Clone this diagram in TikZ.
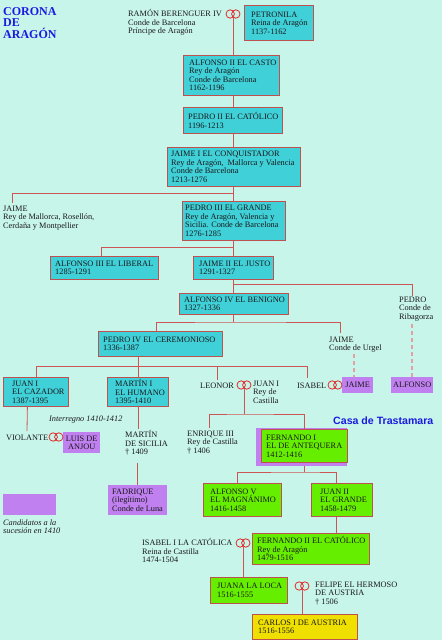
\documentclass[tikz,border=0pt]{standalone}
\usepackage{fontspec}
\setmainfont{Liberation Serif}
\newfontfamily\trastfont{Liberation Sans}
\definecolor{bgc}{RGB}{200,245,234}
\definecolor{cyanc}{RGB}{64,208,216}
\definecolor{greenc}{RGB}{102,238,0}
\definecolor{yellowc}{RGB}{240,224,0}
\definecolor{purpc}{RGB}{192,128,240}
\definecolor{bordc}{RGB}{190,80,80}
\definecolor{linec}{RGB}{205,85,85}
\definecolor{dashc}{RGB}{225,160,165}
\definecolor{ringc}{RGB}{225,40,40}
\definecolor{txtc}{RGB}{25,25,25}
\definecolor{bluec}{RGB}{25,25,225}
\newcommand\txtfont{\fontsize{8.3}{8.5}\selectfont}
\tikzset{
  conn/.style={draw=linec, line width=0.8pt},
  dconn/.style={draw=dashc, line width=1.6pt, dash pattern=on 4pt off 3pt},
  fam/.style={rectangle, draw=bordc, line width=0.8pt, anchor=north west, inner sep=0pt},
  cy/.style={fam, fill=cyanc},
  gr/.style={fam, fill=greenc},
  ye/.style={fam, fill=yellowc},
  pu/.style={rectangle, fill=purpc, anchor=north west, inner sep=0pt, align=center, font=\txtfont, text=txtc},
  boxlab/.style={anchor=west, inner sep=0pt, align=left, font=\txtfont, text=txtc},
  lab/.style={anchor=north west, inner sep=0pt, align=left, font=\txtfont, text=txtc,
              execute at begin node={\rule{0pt}{7.5pt}}},
  rings/.pic={
    \draw[ringc, line width=0.8pt] (-2.8,0) circle (4.2pt);
    \draw[ringc, line width=0.8pt] (2.8,0) circle (4.2pt);
    \coordinate (-c) at (0,0);
  }
}
% style, name, left, top, width, height, xsep, text
\newcommand\FamBox[8]{%
  \node[#1, minimum width=#5pt, minimum height=#6pt] (#2) at (#3,#4) {};
  \node[boxlab] (#2t) at ([xshift=#7pt]#2.west) {#8};
}
\begin{document}
\begin{tikzpicture}[x=1pt,y=-1pt]
\fill[bgc] (0,0) rectangle (442,640);
\useasboundingbox (0,0) rectangle (442,640);

% title
\node[anchor=north west, inner sep=0pt, align=left, text=bluec,
      font=\fontsize{12}{11.5}\selectfont\bfseries] (title) at (3,7) {CORONA\\DE\\ARAGÓN};
\node[anchor=base west, inner sep=0pt, text=bluec,
      font=\trastfont\fontsize{10.6}{12}\selectfont\bfseries] (trast) at (333,424.5) {Casa de Trastamara};

% free texts
\node[lab] (ramon) at (128,9.5) {RAMÓN BERENGUER IV\\Conde de Barcelona\\Príncipe de Aragón};
\node[lab] (jaimeM) at (3,205.5) {JAIME\\Rey de Mallorca, Rosellón,\\Cerdaña y Montpellier};
\node[lab] (pedroR) at (399,296.5) {PEDRO\\Conde de\\Ribagorza};
\node[lab] (jaimeU) at (329,336.5) {JAIME\\Conde de Urgel};
\node[lab] (leonor) at (200,380.5) {LEONOR};
\node[lab] (juanC) at (253,380.5) {JUAN I\\Rey de\\Castilla};
\node[lab] (isabel) at (297,380.5) {ISABEL};
\node[lab] (violante) at (6,432.5) {VIOLANTE};
\node[lab] (martinS) at (125,430.5) {MARTÍN\\DE SICILIA\\† 1409};
\node[lab] (enrique) at (187,430.5) {ENRIQUE III\\Rey de Castilla\\† 1406};
\node[lab] (isabel1) at (142,538.5) {ISABEL I LA CATÓLICA\\Reina de Castilla\\1474-1504};
\node[lab] (felipe) at (315,581.5) {FELIPE EL HERMOSO\\DE AUSTRIA\\† 1506};
\node[lab, anchor=base west, font=\txtfont\itshape] (interr) at (49,421.5) {Interregno 1410-1412};
\node[lab, font=\txtfont\itshape] (legendt) at (3,519.5) {Candidatos a la\\sucesión en 1410};

% boxes
\FamBox{cy}{petro}{244}{5}{69}{35}{7}{PETRONILA\\Reina de Aragón\\1137-1162}
\FamBox{cy}{alf2}{183}{55}{96}{40}{6}{ALFONSO II EL CASTO\\Rey de Aragón\\Conde de Barcelona\\1162-1196}
\FamBox{cy}{ped2}{183}{107}{99}{26}{5}{PEDRO II EL CATÓLICO\\1196-1213}
\FamBox{cy}{jaime1}{167}{147}{133}{39}{4}{JAIME I EL CONQUISTADOR\\Rey de Aragón,\ \ Mallorca y Valencia\\Conde de Barcelona\\1213-1276}
\FamBox{cy}{ped3}{182}{201}{103}{39}{3}{PEDRO III EL GRANDE\\Rey de Aragón, Valencia y\\Sicilia. Conde de Barcelona\\1276-1285}
\FamBox{cy}{alf3}{50}{256}{108}{23}{5}{ALFONSO III EL LIBERAL\\1285-1291}
\FamBox{cy}{jaime2}{193}{256}{80}{23}{6}{JAIME II EL JUSTO\\1291-1327}
\FamBox{cy}{alf4}{179}{293}{109}{21}{5}{ALFONSO IV EL BENIGNO\\1327-1336}
\FamBox{cy}{ped4}{98}{331}{124}{25}{5}{PEDRO IV EL CEREMONIOSO\\1336-1387}
\FamBox{cy}{juan1}{3}{377}{65}{29}{9}{JUAN I\\EL CAZADOR\\1387-1395}
\FamBox{cy}{martin1}{107}{377}{61}{29}{8}{MARTÍN I\\EL HUMANO\\1395-1410}
\fill[purpc] (256,428) rectangle (347,466);
\node[rectangle, inner sep=0pt, anchor=north west, minimum width=91pt, minimum height=38pt] (fern1sh) at (256,428) {};
\FamBox{gr}{fern1}{261}{429}{86}{33}{5}{FERNANDO I\\EL DE ANTEQUERA\\1412-1416}
\FamBox{gr}{alf5}{203}{483}{78}{33}{7}{ALFONSO V\\EL MAGNÁNIMO\\1416-1458}
\FamBox{gr}{juan2}{311}{483}{61}{33}{9}{JUAN II\\EL GRANDE\\1458-1479}
\FamBox{gr}{fern2}{252}{533}{117}{31}{5}{FERNANDO II EL CATÓLICO\\Rey de Aragón\\1479-1516}
\FamBox{gr}{juana}{210}{577}{77}{26}{7}{JUANA LA LOCA\\1516-1555}
\FamBox{ye}{carlos}{252}{614}{105}{25}{6}{CARLOS I DE AUSTRIA\\1516-1556}

% purple candidate boxes
\node[pu, minimum width=31pt, minimum height=16pt] (jaimeP) at (342,377) {JAIME};
\node[pu, minimum width=42pt, minimum height=16pt] (alfonsoP) at (391,377) {ALFONSO};
\node[pu, minimum width=37pt, minimum height=21pt, font=\fontsize{8.3}{8}\selectfont] (luis) at (63,432) {LUIS DE\\ANJOU};
\node[pu, minimum width=59pt, minimum height=30pt] (fadrique) at (108,485) {};
\node[boxlab] (fadriquet) at ([xshift=4pt]fadrique.west) {FADRIQUE\\(ilegítimo)\\Conde de Luna};
\node[pu, minimum width=53pt, minimum height=21pt] (legend) at (3,494) {};

% rings
\pic (r1) at (233,14) {rings};
\pic (r2) at (244,385) {rings};
\pic (r3) at (335,385) {rings};
\pic (r4) at (56,437) {rings};
\pic (r5) at (243,543) {rings};
\pic (r6) at (302,586) {rings};

% junctions
\coordinate (b1) at (233,193);
\coordinate (b2) at (233,247);
\coordinate (b3) at (233,284);
\coordinate (b4) at (233,322);
\coordinate (b5) at (137.5,366);
\coordinate (b6) at (244,414);
\coordinate (b7) at (304,472);

% connectors
\draw[conn] ([yshift=-4.2pt]r1-c) -- (r1-c |- alf2.north);
\draw[conn] (alf2.south -| r1-c) -- (ped2.north -| r1-c);
\draw[conn] (ped2.south -| r1-c) -- (jaime1.north -| r1-c);
\draw[conn] (jaime1.south -| r1-c) -- (ped3.north -| r1-c);
\draw[conn] (b1) -| ([xshift=9pt,yshift=2.5pt]jaimeM.north west);
\draw[conn] (ped3.south -| r1-c) -- (jaime2.north -| r1-c);
\draw[conn] (b2) -| ([xshift=-3pt]alf3.north);
\draw[conn] (jaime2.south -| r1-c) -- (alf4.north -| r1-c);
\draw[conn] (b3) -| ([yshift=0.5pt]pedroR.north -| alfonsoP.north);
\draw[dconn] ([yshift=-3pt]pedroR.south -| alfonsoP.north) -- (alfonsoP.north);
\draw[conn] (alf4.south -| b4) -- (b4);
\draw[conn] ([xshift=-4pt]ped4.north) |- (b4) -| ([xshift=11pt,yshift=3.5pt]jaimeU.north west);
\draw[dconn] ([xshift=25pt,yshift=-1pt]jaimeU.south west) -- ([xshift=25pt]jaimeU.south west |- jaimeP.north);
\draw[conn] (ped4.south -| martin1.north) -- (martin1.north);
\draw[conn] (juan1.north) -- (juan1.north |- b5) -| ([xshift=10pt,yshift=2.5pt]isabel.north west);
\draw[conn] ([xshift=17pt]leonor.north west |- b5) -- ([xshift=17pt,yshift=0.5pt]leonor.north west);
\draw[conn] ([yshift=-4.2pt]r2-c) -- (b6);
\draw[conn] ([xshift=22pt,yshift=2.5pt]enrique.north west) |- (b6) -| (fern1.north);
\draw[conn] (fern1sh.south -| b7) -- (b7);
\draw[conn] ([xshift=-5pt]alf5.north) |- (b7) -| ([xshift=-5.5pt]juan2.north);
\draw[conn] ([xshift=-5.5pt]juan2.south) -- ([xshift=-5.5pt]juan2.south |- fern2.north);
\draw[conn] ([yshift=-4.2pt]r5-c) -- (r5-c |- juana.north);
\draw[conn] ([yshift=-4.2pt]r6-c) -- (r6-c |- carlos.north);
\draw[conn] ([xshift=-8.5pt]juan1.south) -- ([xshift=21pt,yshift=1.5pt]violante.north west);
\draw[conn] (martin1.south) -- ([yshift=1.5pt]martinS.north -| martin1.south);
\draw[conn] ([yshift=-7pt]martinS.south -| fadrique.north) -- (fadrique.north);
\end{tikzpicture}
\end{document}
